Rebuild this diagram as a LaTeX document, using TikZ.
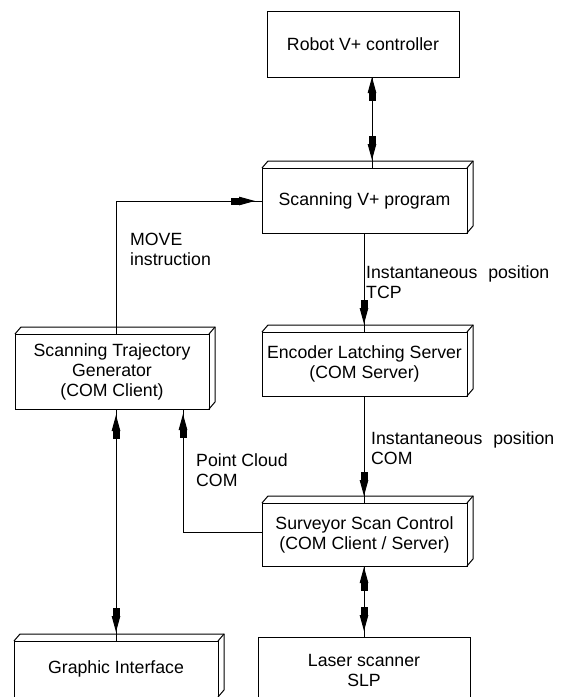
\documentclass[tikz,border=0pt]{standalone}
\usepackage{fontspec}
\setmainfont{Liberation Sans}
\usetikzlibrary{arrows.meta}

% top and right faces of a raised block
\newcommand\slabfaces[1]{%
  \draw[face] (#1.north west) -- ++(6,-7) -- ([shift={(6,-7)}]#1.north east)
        -- ([shift={(6,-7)}]#1.south east) -- (#1.south east);
  \draw[face] (#1.north east) -- ++(6,-7);}

\begin{document}
\begin{tikzpicture}[x=1pt,y=-1pt,
  txt/.style={font=\fontsize{17.7}{20}\selectfont},
  box/.style={txt, draw=black, line width=1pt, inner sep=0pt, outer sep=0pt,
              align=center, fill=white},
  face/.style={draw=black, line width=1pt},
  label/.style={txt, anchor=west, align=left, inner sep=0pt},
  wire/.style={line width=1pt},
  head/.style={line width=1pt,
     -{Rectangle[length=8pt,width=7pt,sep=0pt]Triangle[length=16pt,width=8.5pt,sep=0pt]}}
]
\useasboundingbox (0,0) rectangle (563,697);
\clip (0,0) rectangle (563,697);

% blocks
\node[box, minimum width=192pt, minimum height=66pt] (robot) at (363,44) {Robot V+ controller};
\node[box, minimum width=205pt, minimum height=65pt] (prog) at (364.5,200.5) {Scanning V+ program};
\node[box, minimum width=194pt, minimum height=75pt] (traj) at (112,371.5) {Scanning Trajectory\\Generator\\(COM Client)};
\node[box, minimum width=205pt, minimum height=64pt] (enc) at (364.5,364) {Encoder Latching Server\\(COM Server)};
\node[box, minimum width=205pt, minimum height=63pt] (surv) at (364.5,534.5) {Surveyor Scan Control\\(COM Client / Server)};
\node[box, minimum width=204pt, minimum height=56pt] (gui) at (116,669) {Graphic Interface};
\node[box, minimum width=212pt, minimum height=66pt] (laser) at (364,670) {Laser scanner\\SLP};

\slabfaces{prog}
\slabfaces{traj}
\slabfaces{enc}
\slabfaces{surv}
\slabfaces{gui}

% connector columns and rows
\coordinate (xr) at (372,0);
\coordinate (xm) at (364,0);
\coordinate (xl) at (116,0);
\coordinate (xp) at (183,0);
\coordinate (ym) at (0,201);
\coordinate (yp) at (0,532);

% robot controller <-> scanning program
\coordinate (rA) at (robot.south -| xr);
\coordinate (rB) at (prog.north -| xr);
\draw[wire] (rA) -- (rB);
\draw[head] ([yshift=-26pt]rA) -- (rA);
\draw[head] ([yshift=34pt]rB) -- ([yshift=8pt]rB);

% scanning program -> encoder latching server
\coordinate (pA) at (prog.south -| xm);
\coordinate (pB) at (enc.north -| xm);
\draw[wire] (pA) -- (pB);
\draw[head] ([yshift=34pt]pB) -- ([yshift=8pt]pB);

% encoder latching server -> surveyor
\coordinate (eA) at (enc.south -| xm);
\coordinate (eB) at (surv.north -| xm);
\draw[wire] (eA) -- (eB);
\draw[head] ([yshift=33pt]eB) -- ([yshift=7pt]eB);

% surveyor <-> laser scanner
\coordinate (sA) at (surv.south -| xm);
\coordinate (sB) at (laser.north -| xm);
\draw[wire] (sA) -- (sB);
\draw[head] ([yshift=-26pt]sA) -- ([yshift=-1pt]sA);
\draw[head] ([yshift=31pt]sB) -- ([yshift=6pt]sB);

% surveyor -> trajectory generator (point cloud)
\coordinate (cA) at (surv.west |- yp);
\coordinate (cB) at (cA -| xp);
\coordinate (cC) at (traj.south -| xp);
\draw[wire] (cA) -- (cB) -- (cC);
\draw[head] ([yshift=-30pt]cC) -- ([yshift=-5pt]cC);

% trajectory generator <-> graphic interface
\coordinate (gA) at (traj.south -| xl);
\coordinate (gB) at (gui.north -| xl);
\draw[wire] (gA) -- (gB);
\draw[head] ([yshift=-31pt]gA) -- ([yshift=-6pt]gA);
\draw[head] ([yshift=34pt]gB) -- ([yshift=9pt]gB);

% trajectory generator -> scanning program (move)
\coordinate (mA) at (traj.north -| xl);
\coordinate (mB) at (mA |- ym);
\coordinate (mC) at (prog.west |- ym);
\draw[wire] (mA) -- (mB) -- (mC);
\draw[head] ([xshift=-32pt]mC) -- ([xshift=-7pt]mC);

% connector labels
\node[label] (lmove) at (130,249.5) {MOVE\\instruction};
\node[label] (ltcp) at (366,282.5) {Instantaneous\hspace{6pt} position\\TCP};
\node[label] (lcom) at (371,448.5) {Instantaneous\hspace{6pt} position\\COM};
\node[label] (lpc) at (196,470) {Point Cloud\\COM};
\end{tikzpicture}
\end{document}
